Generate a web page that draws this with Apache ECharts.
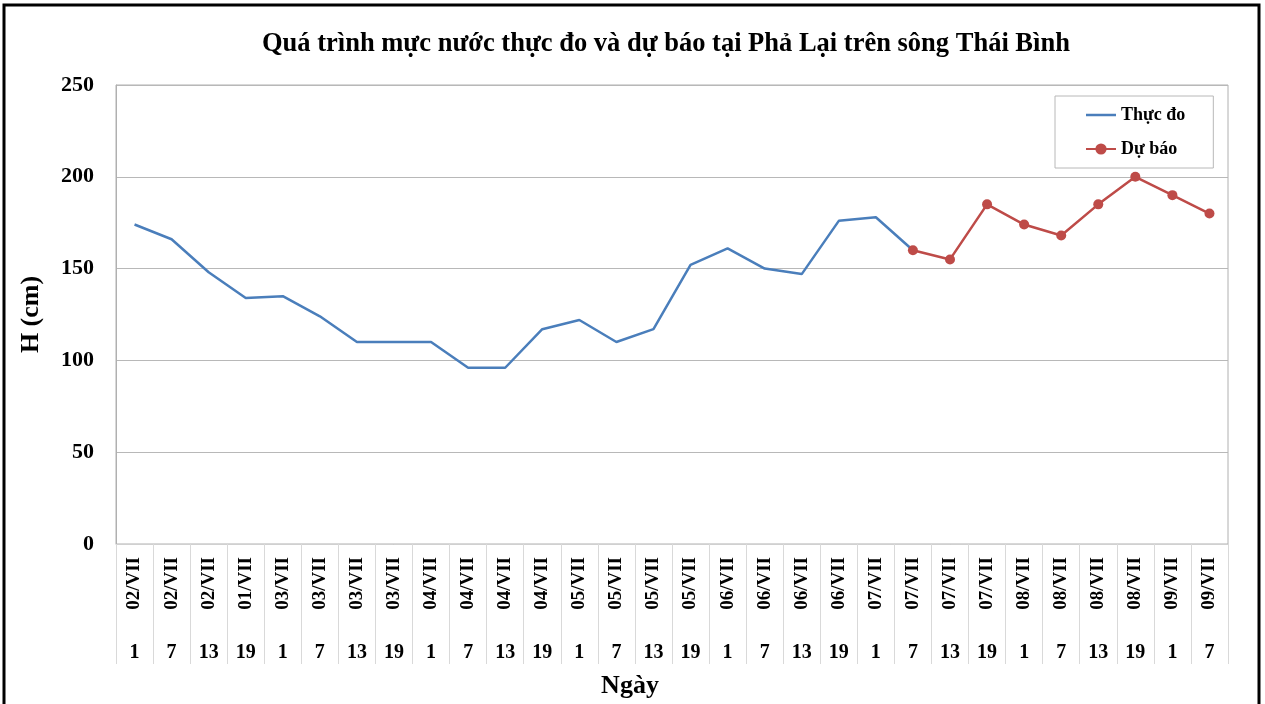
<!DOCTYPE html>
<html>
<head>
<meta charset="utf-8">
<script src="https://cdn.jsdelivr.net/npm/echarts@6/dist/echarts.min.js"></script>
<style>
  html, body { margin: 0; padding: 0; background: #fff; }
  #chart { width: 1265px; height: 704px; }
</style>
</head>
<body>
<div id="chart"></div>
<script>
// tick labels (two-level category axis: date, hour)
var dates = ["02/VII", "02/VII", "02/VII", "01/VII", "03/VII", "03/VII", "03/VII", "03/VII",
	"04/VII", "04/VII", "04/VII", "04/VII", "05/VII", "05/VII", "05/VII", "05/VII",
	"06/VII", "06/VII", "06/VII", "06/VII", "07/VII", "07/VII", "07/VII", "07/VII",
	"08/VII", "08/VII", "08/VII", "08/VII", "09/VII", "09/VII"];
var hours = ["1", "7", "13", "19", "1", "7", "13", "19", "1", "7", "13", "19", "1", "7", "13", "19",
	"1", "7", "13", "19", "1", "7", "13", "19", "1", "7", "13", "19", "1", "7"];

// H (cm)
var observed = [174, 166, 148, 134, 135, 124, 110, 110, 110, 96, 96, 117, 122, 110, 117,
	152, 161, 150, 147, 176, 178, 160];
var forecastStart = 21;
var forecast = [160, 155, 185, 174, 168, 185, 200, 190, 180];

var serif = "Liberation Serif";
var blue = "#4A7EBB";
var red = "#BE4B48";

var obsData = dates.map(function (d, i) { return i < observed.length ? observed[i] : null; });
var fcData = dates.map(function (d, i) {
	return i >= forecastStart ? forecast[i - forecastStart] : null;
});

var chart = echarts.init(document.getElementById("chart"));
chart.setOption({
	animation: false,
	backgroundColor: "#fff",
	title: {
		text: "Quá trình mực nước thực đo và dự báo tại Phả Lại trên sông Thái Bình",
		left: 262,
		top: 31,
		padding: 0,
		textStyle: { fontFamily: serif, fontWeight: "bold", fontSize: 26.5, color: "#000" }
	},
	graphic: [{
		type: "rect",
		shape: { x: 4, y: 5, width: 1255, height: 720 },
		style: { fill: "none", stroke: "#000", lineWidth: 3 },
		silent: true
	}],
	legend: {
		orient: "vertical",
		left: 1055,
		top: 96,
		padding: [10, 28, 10, 30],
		itemGap: 16,
		itemWidth: 30,
		itemHeight: 14,
		borderColor: "#b8b8b8",
		borderWidth: 1,
		backgroundColor: "#fff",
		textStyle: { fontFamily: serif, fontWeight: "bold", fontSize: 18, color: "#000" },
		data: [
			{ name: "Thực đo", icon: "path://M0,0 L30,0 L30,2.5 L0,2.5 Z" },
			{ name: "Dự báo" }
		]
	},
	grid: {
		left: 116, right: 37, top: 85, bottom: 160,
		show: true, borderColor: "#b0b0b0", borderWidth: 1
	},
	xAxis: [{
		type: "category",
		data: dates,
		position: "bottom",
		boundaryGap: true,
		axisLine: { lineStyle: { color: "#d0d0d0" } },
		axisTick: { show: true, interval: 0, length: 120, lineStyle: { color: "#d9d9d9" } },
		axisLabel: {
			interval: 0, rotate: 90, margin: 13,
			fontFamily: serif, fontWeight: "bold", fontSize: 19, color: "#000"
		},
		name: "Ngày",
		nameLocation: "middle",
		nameGap: 129,
		nameTextStyle: {
			fontFamily: serif, fontWeight: "bold", fontSize: 26, color: "#000",
			padding: [0, 84, 0, 0]
		}
	}, {
		type: "category",
		data: hours,
		position: "bottom",
		offset: 0,
		boundaryGap: true,
		axisLine: { show: false },
		axisTick: { show: false },
		axisLabel: {
			interval: 0, margin: 99,
			fontFamily: serif, fontWeight: "bold", fontSize: 20, color: "#000"
		}
	}],
	yAxis: {
		type: "value",
		min: 0, max: 250, interval: 50,
		axisLine: { show: true, lineStyle: { color: "#b0b0b0" } },
		axisTick: { show: false },
		splitLine: { lineStyle: { color: "#b8b8b8" } },
		axisLabel: { margin: 22, fontFamily: serif, fontWeight: "bold", fontSize: 22, color: "#000" },
		name: "H (cm)",
		nameLocation: "middle",
		nameGap: 72,
		nameRotate: 90,
		nameTextStyle: { fontFamily: serif, fontWeight: "bold", fontSize: 26, color: "#000" }
	},
	series: [{
		name: "Thực đo",
		type: "line",
		data: obsData,
		symbol: "none",
		lineStyle: { color: blue, width: 2.5 },
		itemStyle: { color: blue }
	}, {
		name: "Dự báo",
		type: "line",
		data: fcData,
		symbol: "circle",
		symbolSize: 10,
		lineStyle: { color: red, width: 2.5 },
		itemStyle: { color: red }
	}]
});
</script>
</body>
</html>
